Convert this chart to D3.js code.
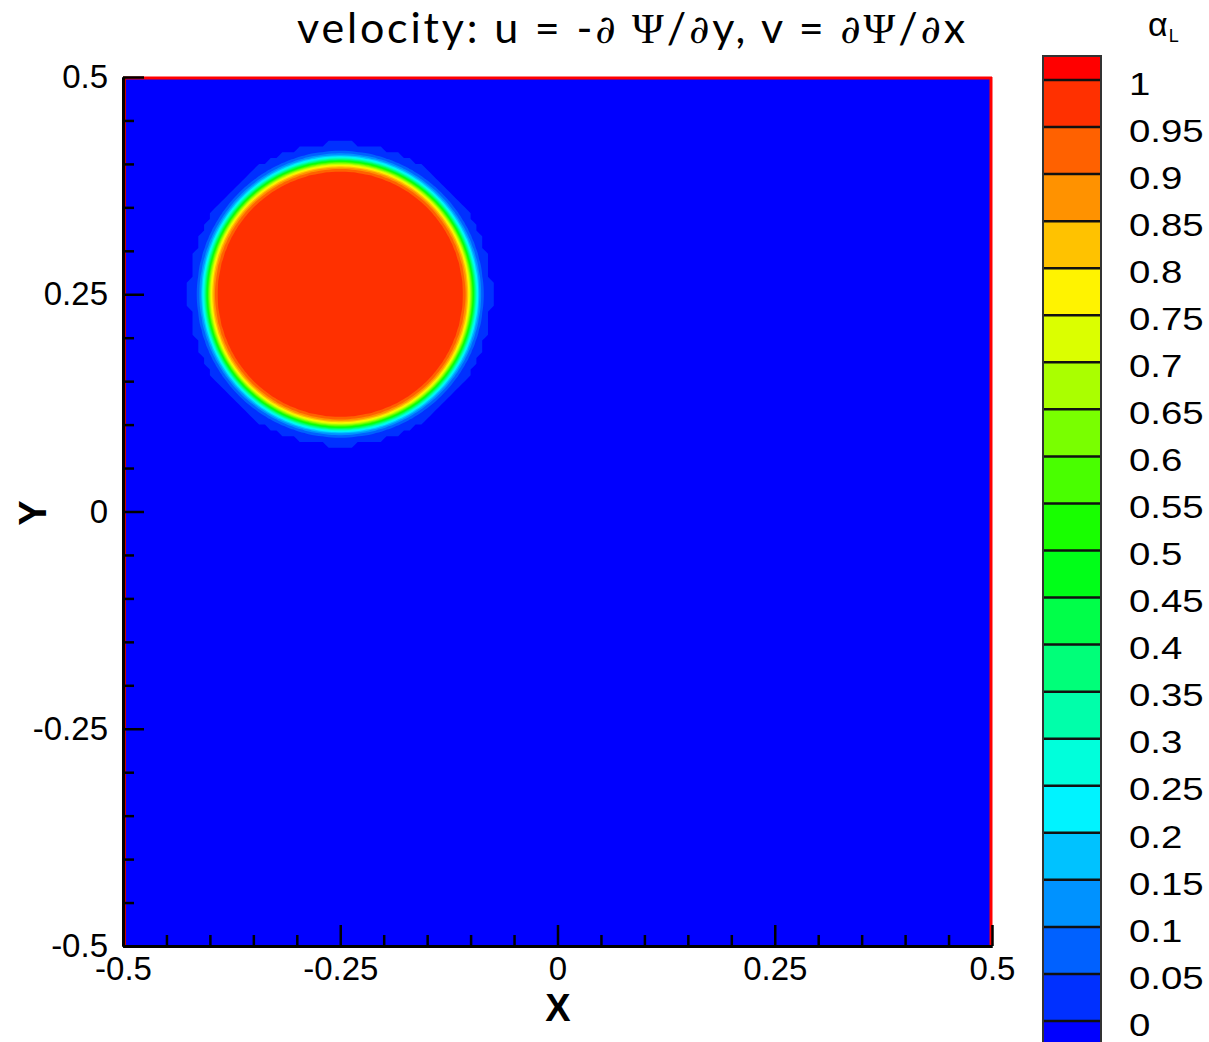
<!DOCTYPE html>
<html><head><meta charset="utf-8">
<script src="https://cdn.jsdelivr.net/npm/d3@7"></script>
<style>body{margin:0;background:#fff}svg{display:block}</style>
</head><body><svg id="c" width="1209" height="1042"></svg>
<script>
// ---------- data ----------
const titleParts = [
  ["velocity: u = -", "sans"], ["\u2202", "ital"], [" \u03A8", "serif"], ["/", "sans"],
  ["\u2202", "ital"], ["y, v = ", "sans"], ["\u2202", "ital"], ["\u03A8", "serif"],
  ["/", "sans"], ["\u2202", "ital"], ["x", "sans"]
];
const majorTicks = [-0.5, -0.25, 0, 0.25, 0.5];
const majorLabels = ["-0.5", "-0.25", "0", "0.25", "0.5"];
const minorTicks = [-0.45, -0.4, -0.35, -0.3, -0.2, -0.15, -0.1, -0.05,
                    0.05, 0.1, 0.15, 0.2, 0.3, 0.35, 0.4, 0.45];
const levels = [1, 0.95, 0.9, 0.85, 0.8, 0.75, 0.7, 0.65, 0.6, 0.55, 0.5,
                0.45, 0.4, 0.35, 0.3, 0.25, 0.2, 0.15, 0.1, 0.05, 0];
const levelLabels = ["1", "0.95", "0.9", "0.85", "0.8", "0.75", "0.7", "0.65", "0.6", "0.55", "0.5",
                     "0.45", "0.4", "0.35", "0.3", "0.25", "0.2", "0.15", "0.1", "0.05", "0"];
// band colours from below 0 (index 0) up to above 1 (index 21)
const bandColors = ["#0000ff", "#0030ff", "#0061ff", "#0092ff", "#00c2ff", "#00f3ff",
  "#00ffdb", "#00ffaa", "#00ff79", "#00ff49", "#00ff18", "#18ff00", "#49ff00",
  "#79ff00", "#aaff00", "#dbff00", "#fff300", "#ffc200", "#ff9200", "#ff6100",
  "#ff3000", "#ff0000"];
// liquid drop
const dropCenter = [-0.25, 0.25];
const dropRadius = 0.153;
const interfaceWidth = 0.008;
const haloLevel = 0.005;

// ---------- layout ----------
const svg = d3.select("#c");
svg.append("rect").attr("width", 1209).attr("height", 1042).attr("fill", "#fff");
const x = d3.scaleLinear().domain([-0.5, 0.5]).range([123, 992]);
const y = d3.scaleLinear().domain([-0.5, 0.5]).range([946, 77]);

// ---------- field ----------
const plot = svg.append("g");
plot.append("rect").attr("x", x(-0.5)).attr("y", y(0.5))
  .attr("width", x(0.5) - x(-0.5)).attr("height", y(-0.5) - y(0.5))
  .attr("fill", bandColors[0]);

function field(n) {
  const v = new Float64Array(n * n);
  for (let j = 0; j < n; j++) {
    const py = 0.5 - (j + 0.5) / n;
    for (let i = 0; i < n; i++) {
      const px = -0.5 + (i + 0.5) / n;
      const r = Math.hypot(px - dropCenter[0], py - dropCenter[1]);
      v[j * n + i] = 0.5 * (1 - Math.tanh((r - dropRadius) / interfaceWidth));
    }
  }
  return v;
}
function pathFor(n) {
  return d3.geoPath(d3.geoTransform({
    point(cx, cy) { this.stream.point(x(-0.5 + cx / n), y(0.5 - cy / n)); }
  }));
}
// coarse halo (staircase like the reference)
const nc = 150;
const haloC = d3.contours().size([nc, nc]).smooth(false).thresholds([haloLevel])(field(nc));
plot.append("path").attr("d", pathFor(nc)(haloC[0])).attr("fill", bandColors[1]);
// fine bands (0.05 .. 0.95)
const nf = 260;
const thr = levels.slice().reverse().slice(1, levels.length - 1);
const cs = d3.contours().size([nf, nf]).thresholds(thr)(field(nf));
cs.forEach((c, k) => {
  plot.append("path").attr("d", pathFor(nf)(c)).attr("fill", bandColors[k + 2]);
});

// red edges of the zone (top, right, left inside the axis)
const red = "#ff0000";
plot.append("line").attr("x1", x(-0.5)).attr("x2", x(0.5)).attr("y1", y(0.5) + 1).attr("y2", y(0.5) + 1)
  .attr("stroke", red).attr("stroke-width", 3);
plot.append("line").attr("x1", x(0.5) - 1).attr("x2", x(0.5) - 1).attr("y1", y(0.5)).attr("y2", y(-0.5))
  .attr("stroke", red).attr("stroke-width", 3);
plot.append("line").attr("x1", x(-0.5) + 2).attr("x2", x(-0.5) + 2).attr("y1", y(0.5)).attr("y2", y(-0.5))
  .attr("stroke", "#cc0000").attr("stroke-width", 2);

// ---------- axes ----------
const font = "'Liberation Sans', Arial, sans-serif";
function styleAxis(g) {
  g.selectAll("path.domain").attr("stroke", "#000").attr("stroke-width", 3);
  g.selectAll(".tick line").attr("stroke", "#000").attr("stroke-width", 2.5);
  g.selectAll(".tick text").attr("fill", "#000").style("font-family", font).style("font-size", "33px");
}
const xMinor = svg.append("g").attr("transform", `translate(0,${y(-0.5)})`)
  .call(d3.axisBottom(x).tickValues(minorTicks).tickSize(-11).tickSizeOuter(0).tickFormat(""));
styleAxis(xMinor);
const xMajor = svg.append("g").attr("transform", `translate(0,${y(-0.5)})`)
  .call(d3.axisBottom(x).tickValues(majorTicks).tickSize(-21).tickSizeOuter(0).tickPadding(11)
    .tickFormat((d, i) => majorLabels[i]));
styleAxis(xMajor);
const yMinor = svg.append("g").attr("transform", `translate(${x(-0.5)},0)`)
  .call(d3.axisLeft(y).tickValues(minorTicks).tickSize(-11).tickSizeOuter(0).tickFormat(""));
styleAxis(yMinor);
const yMajor = svg.append("g").attr("transform", `translate(${x(-0.5)},0)`)
  .call(d3.axisLeft(y).tickValues(majorTicks).tickSize(-21).tickSizeOuter(0).tickPadding(15)
    .tickFormat((d, i) => majorLabels[i]));
styleAxis(yMajor);

svg.append("text").attr("x", 558).attr("y", 1021).attr("text-anchor", "middle")
  .style("font-family", font).style("font-weight", "bold").style("font-size", "38px").text("X");
svg.append("text").attr("transform", "translate(46,513) rotate(-90)").attr("text-anchor", "middle")
  .style("font-family", font).style("font-weight", "bold").style("font-size", "38px").text("Y");

// ---------- title ----------
const fams = {
  sans: ["Lato, 'Open Sans', sans-serif", "normal", "1em"],
  serif: ["'Liberation Serif', 'DejaVu Serif', serif", "normal", "1em"],
  ital: ["'DejaVu Serif', 'Liberation Serif', serif", "italic", "0.92em"]
};
const title = svg.append("text").attr("x", 297).attr("y", 43).style("font-size", "43px").attr("fill", "#000");
titleParts.forEach(([t, f]) => {
  title.append("tspan").text(t).style("font-family", fams[f][0]).style("font-style", fams[f][1])
    .style("font-size", fams[f][2]);
});
const tw = title.node().getComputedTextLength();
const nChars = titleParts.map(p => p[0]).join("").length;
title.style("letter-spacing", ((668 - tw) / (nChars - 1)).toFixed(2) + "px");

// ---------- colour bar ----------
const cb = d3.scaleLinear().domain([0, 1]).range([1021, 80]);
const step = cb(0) - cb(0.05);
const cbg = svg.append("g");
const cbX = 1043, cbW = 58;
bandColors.forEach((col, k) => {
  let top, bot;
  if (k === 0) { top = cb(0); bot = cb(0) + step; }
  else if (k === bandColors.length - 1) { top = 56; bot = cb(1); }
  else { top = cb(levels[levels.length - k - 1]); bot = cb(levels[levels.length - k]); }
  cbg.append("rect").attr("x", cbX).attr("y", top).attr("width", cbW).attr("height", bot - top).attr("fill", col);
});
levels.forEach(l => {
  cbg.append("line").attr("x1", cbX).attr("x2", cbX + cbW).attr("y1", cb(l)).attr("y2", cb(l))
    .attr("stroke", "#111").attr("stroke-width", 2.5);
});
cbg.append("rect").attr("x", cbX).attr("y", 56).attr("width", cbW).attr("height", cb(0) + step - 56)
  .attr("fill", "none").attr("stroke", "#333").attr("stroke-width", 2);
levels.forEach((l, i) => {
  const t = cbg.append("text").attr("x", 0).attr("y", 0).attr("dy", "0.35em")
    .style("font-family", font).style("font-size", "32px").attr("fill", "#000").text(levelLabels[i]);
  t.attr("transform", `translate(1129,${cb(l) + 3.5}) scale(1.2,1)`);
});
const at = svg.append("text").attr("x", 1148).attr("y", 36).style("font-family", font).attr("fill", "#000");
at.append("tspan").style("font-size", "34px").text("\u03B1");
at.append("tspan").style("font-size", "18px").attr("dy", 6).attr("dx", 1).text("L");
</script></body></html>
